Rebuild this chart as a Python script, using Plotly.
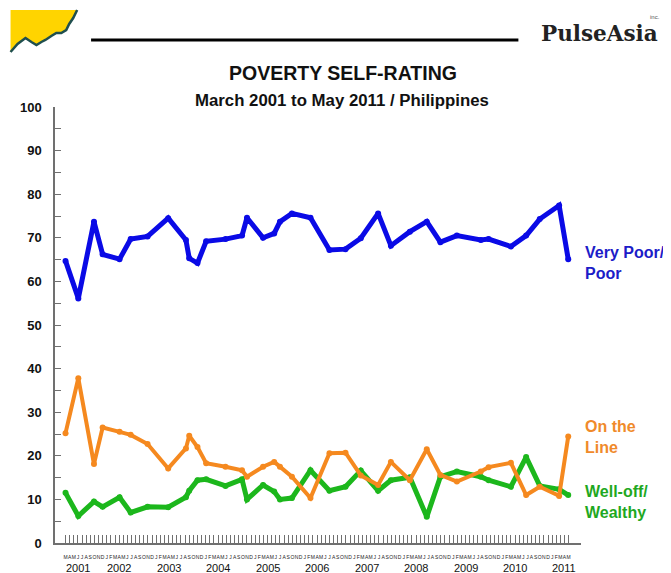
import plotly.graph_objects as go

# ---- data ----
# survey month: months since January 2001 (0 = Jan 2001)
survey_month = [2, 5.1, 8.9, 11, 15.1, 17.8, 21.9, 26.9, 31.2, 32.0, 34.0, 36.1,
                40.8, 44.8, 46.0, 49.9, 52.6, 54.0, 56.9, 61.4, 66.0, 69.9, 73.6,
                77.8, 80.9, 85.5, 89.6, 92.9, 96.9, 102.7, 104.6, 110.0, 113.7,
                117.0, 121.7, 123.9]
very_poor = [64.7, 56.1, 73.7, 66.2, 65.1, 69.7, 70.3, 74.5, 69.5, 65.3, 64.2, 69.2,
             69.7, 70.5, 74.6, 70.0, 71.0, 73.7, 75.6, 74.6, 67.2, 67.4, 69.9,
             75.6, 68.2, 71.4, 73.7, 69.0, 70.5, 69.5, 69.7, 68.0, 70.5,
             74.3, 77.4, 65.1]
on_the_line = [25.2, 37.8, 18.1, 26.5, 25.5, 24.8, 22.7, 17.1, 21.7, 24.6, 22.0, 18.3,
               17.5, 16.7, 15.2, 17.5, 18.6, 17.5, 15.2, 10.3, 20.6, 20.7, 15.5,
               13.3, 18.6, 14.4, 21.5, 15.6, 14.1, 16.4, 17.4, 18.4, 11.0,
               12.9, 10.8, 24.4]
well_off = [11.5, 6.2, 9.5, 8.3, 10.5, 7.0, 8.3, 8.2, 10.5, 12.0, 14.4, 14.6,
            13.1, 14.6, 10.0, 13.3, 11.8, 10.0, 10.3, 16.7, 12.0, 12.9, 16.6,
            12.0, 14.4, 15.1, 6.0, 15.2, 16.4, 15.2, 14.4, 12.9, 19.7,
            13.1, 12.3, 11.0]
month_initials = list("JFMAMJJASOND")
tick_months = list(range(2, 125))          # Mar 2001 .. May 2011
years = list(range(2001, 2012))
y_ticks = list(range(0, 101, 5))
series_names = ["Very Poor/<br>Poor", "On the<br>Line", "Well-off/<br>Wealthy"]

# ---- geometry helpers (page pixel -> paper); the page body adds an 8px offset ----
OFF = 8
W, H = 671 - OFF, 573 - OFF
L, R, T, B = 51.7, 581.0, 107.0, 543.0
def px(x):
    return (x - L) / (R - L)
def py(y):
    return (B - y) / (B - T)

BLUE = "#0a0ae6"
ORANGE = "#f5891f"
GREEN = "#1cb71c"

fig = go.Figure()
for vals, col, w in [(well_off, GREEN, 5), (on_the_line, ORANGE, 4), (very_poor, BLUE, 5)]:
    fig.add_trace(go.Scatter(x=survey_month, y=vals, mode="lines+markers",
                             line=dict(color=col, width=w),
                             marker=dict(color=col, size=6),
                             showlegend=False, hoverinfo="skip"))

fig.update_layout(
    width=W, height=H,
    margin=dict(l=L - OFF, r=(W + OFF) - R, t=T - OFF, b=(H + OFF) - B, pad=0),
    paper_bgcolor="white", plot_bgcolor="white",
    xaxis=dict(range=[-0.55, 127], showgrid=False, zeroline=False,
               showline=True, linecolor="#707070", linewidth=1.5,
               ticks="inside", ticklen=8, tickwidth=1, tickcolor="#707070",
               tickvals=tick_months,
               ticktext=[month_initials[m % 12] for m in tick_months],
               tickfont=dict(family="Liberation Sans Narrow, Arial Narrow, Arial", size=5, color="#222"),
               tickangle=0, ticklabelstandoff=8),
    yaxis=dict(range=[0, 100], showgrid=False, zeroline=False,
               showline=True, linecolor="#707070", linewidth=1.5,
               ticks="inside", ticklen=6, tickwidth=1, tickcolor="#707070",
               tickvals=y_ticks,
               ticktext=[("<b>%d</b>" % v) if v % 10 == 0 else "" for v in y_ticks],
               tickfont=dict(family="Liberation Sans, Arial", size=13, color="#111"),
               ticklabelstandoff=9),
)

ann = []
# title
ann.append(dict(text="<b>POVERTY SELF-RATING</b>", x=px(342), y=py(73), xref="paper", yref="paper",
                showarrow=False, xanchor="center", yanchor="middle",
                font=dict(family="Liberation Sans Narrow, Arial Narrow, Arial", size=19.5, color="#111")))
ann.append(dict(text="<b>March 2001 to May 2011 / Philippines</b>", x=px(341), y=py(100),
                xref="paper", yref="paper", showarrow=False, xanchor="center", yanchor="middle",
                font=dict(family="Liberation Sans Narrow, Arial Narrow, Arial", size=16.8, color="#111")))
# year labels
for yr in years:
    m = (yr - 2001) * 12
    xpos = 1.6 if yr == 2001 else m - 0.4
    ann.append(dict(text=str(yr), x=xpos, y=py(568), xref="x", yref="paper", showarrow=False,
                    xanchor="left", yanchor="middle",
                    font=dict(family="Liberation Sans Narrow, Arial Narrow, Arial", size=11, color="#111")))
# series labels
for name, col, yv in [(series_names[0], "#1c1cc8", 64.2), (series_names[1], "#f08a2a", 24.3),
                      (series_names[2], "#1fa81f", 9.4)]:
    ann.append(dict(text="<b>" + name + "</b>", x=px(583), y=yv, xref="paper", yref="y",
                    showarrow=False, xanchor="left", yanchor="middle", align="left",
                    font=dict(family="Liberation Sans Narrow, Arial Narrow, Arial", size=16, color=col)))
# header brand
ann.append(dict(text="<b>PulseAsia</b>", x=px(539), y=py(34), xref="paper", yref="paper", showarrow=False,
                xanchor="left", yanchor="middle",
                font=dict(family="DejaVu Serif", size=21.5, color="#222")))
ann.append(dict(text="inc.", x=px(648), y=py(17), xref="paper", yref="paper", showarrow=False,
                xanchor="left", yanchor="middle",
                font=dict(family="Liberation Sans", size=6, color="#555")))
fig.update_layout(annotations=ann)

# header line
shapes = [dict(type="line", xref="paper", yref="paper", x0=px(88), x1=px(518), y0=py(40), y1=py(40),
               line=dict(color="black", width=3))]
# yellow logo
logo_edge = [(7, 52), (14, 44), (22, 38), (28, 42), (33, 45), (38, 42), (42, 40), (48, 36),
             (53, 33), (58, 33), (63, 30), (66, 24), (70, 18), (74, 10)]
fill_pts = [(7, 10)] + logo_edge
path = "M " + " L ".join(f"{px(a):.4f},{py(b):.4f}" for a, b in fill_pts) + " Z"
shapes.append(dict(type="path", xref="paper", yref="paper", path=path,
                   fillcolor="#ffd400", line=dict(width=0)))
epath = "M " + " L ".join(f"{px(a):.4f},{py(b):.4f}" for a, b in logo_edge)
shapes.append(dict(type="path", xref="paper", yref="paper", path=epath,
                   line=dict(color="#1f4f4f", width=2.5)))
fig.update_layout(shapes=shapes)

fig.write_html("out.html")
